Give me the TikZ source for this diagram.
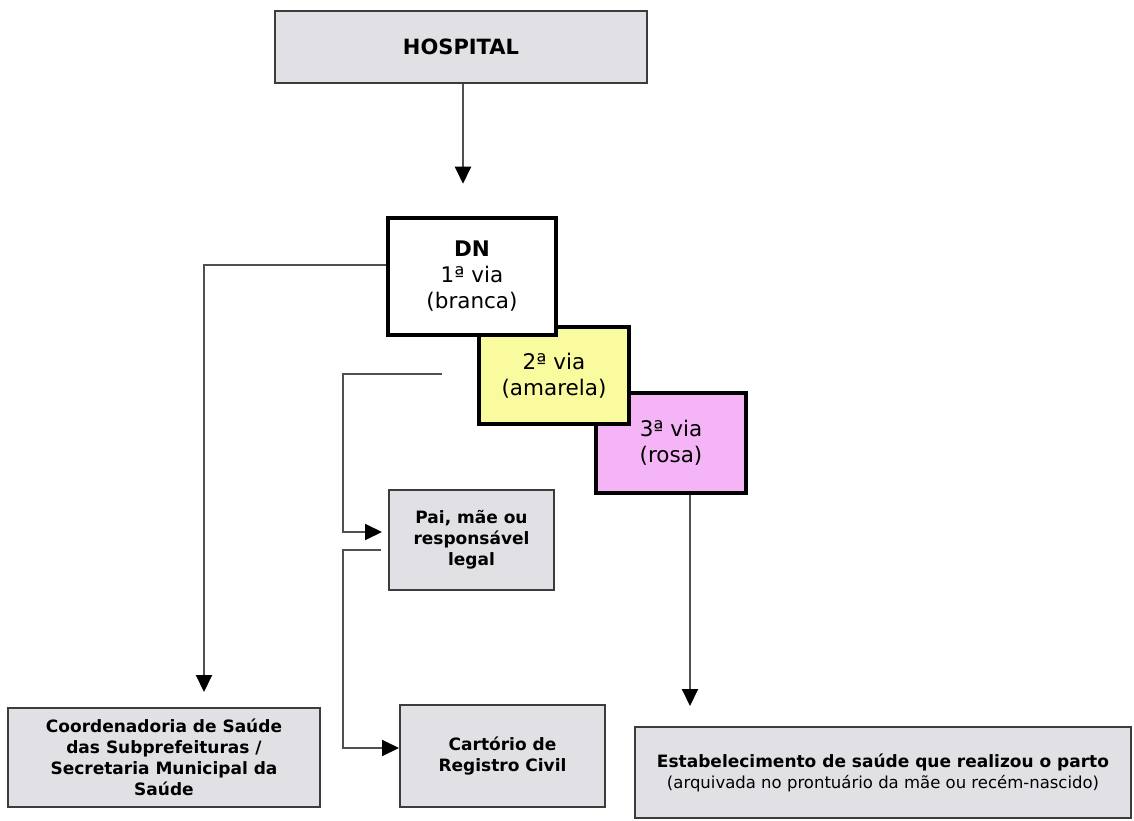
\documentclass[tikz,border=0pt]{standalone}
\usepackage{fontspec}
\setmainfont{DejaVu Sans}
\usetikzlibrary{arrows.meta,calc}
\definecolor{boxgrey}{RGB}{225,224,228}
\definecolor{boxborder}{RGB}{60,60,60}
\definecolor{lineclr}{RGB}{80,80,80}
\definecolor{yellowfill}{RGB}{250,250,158}
\definecolor{pinkfill}{RGB}{245,180,245}
\begin{document}
\begin{tikzpicture}[x=1pt,y=-1pt,
  greybox/.style={draw=boxborder, line width=2pt, fill=boxgrey, align=center, inner sep=0pt,
    font=\fontsize{17}{21}\selectfont\bfseries},
  copybox/.style={draw=black, line width=4.5pt, align=center, inner sep=0pt,
    font=\fontsize{21.5}{26}\selectfont},
  conn/.style={draw=lineclr, line width=2pt},
  arr/.style={conn, -{Triangle[length=17pt,width=16pt,color=black]}}
]
\useasboundingbox (0,0) rectangle (1134,821);

\node[greybox, minimum width=372pt, minimum height=72pt, font=\fontsize{21}{25}\selectfont\bfseries] (hosp) at (461,47) {HOSPITAL};

\node[copybox, fill=pinkfill, minimum width=150pt, minimum height=100pt] (v3) at (671,443) {3ª via\\(rosa)};
\node[copybox, fill=yellowfill, minimum width=150pt, minimum height=97pt] (v2) at (554,375.5) {2ª via\\(amarela)};
\node[copybox, fill=white, minimum width=168pt, minimum height=117pt] (dn) at (472,276.5) {\textbf{DN}\\1ª via\\(branca)};

\node[greybox, minimum width=165pt, minimum height=100pt] (pai) at (471.5,540) {Pai, mãe ou\\responsável\\legal};
\node[greybox, minimum width=312pt, minimum height=99pt] (coord) at (164,757.5) {Coordenadoria de Saúde\\das Subprefeituras /\\Secretaria Municipal da\\Saúde};
\node[greybox, minimum width=205pt, minimum height=102pt] (cart) at (502.5,756) {Cartório de\\Registro Civil};
\node[greybox, minimum width=496pt, minimum height=91pt] (est) at (883,772.5) {Estabelecimento de saúde que realizou o parto\\{\fontsize{16.5}{21}\selectfont\mdseries (arquivada no prontuário da mãe ou recém-nascido)}};

\coordinate (ys) at (442,374);
\coordinate (ps) at (381,550);

\draw[arr, shorten >=32pt] (hosp.south -| 463,0) -- (dn.north -| 463,0);
\draw[arr, shorten >=15pt] (dn.west |- 0,265) -| (coord.north -| 204,0);
\draw[arr, shorten >=6pt] (ys) -- (343,374) -- (343,532) -- (pai.west |- 0,532);
\draw[arr] (ps) -- (343,550) -- (343,748) -- (cart.west |- 0,748);
\draw[arr, shorten >=20pt] (v3.south -| 690,0) -- (est.north -| 690,0);
\end{tikzpicture}
\end{document}
